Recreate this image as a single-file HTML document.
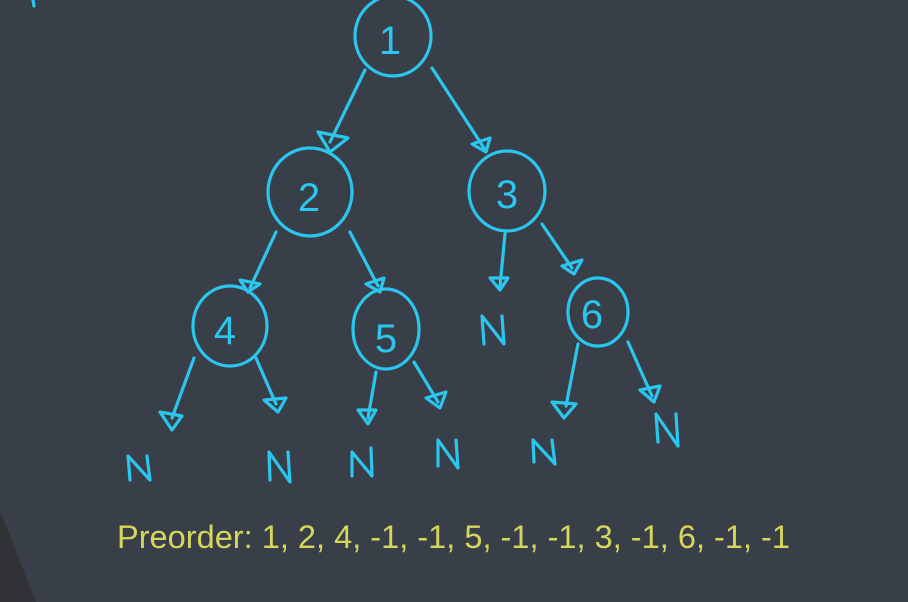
<!DOCTYPE html>
<html><head><style>
html,body{margin:0;padding:0;background:#393f48;}
svg{display:block}
</style></head><body>
<svg width="908" height="602" viewBox="0 0 908 602" xmlns="http://www.w3.org/2000/svg">
<rect width="908" height="602" fill="#393f48"/>
<path d="M0 510 L36 602 L0 602 Z" fill="#303236"/>
<g fill="none" stroke="#2bc6ee" stroke-width="3.2" stroke-linecap="round" stroke-linejoin="round">
<path d="M33 0 L34 6"/>
<ellipse cx="393" cy="36" rx="38" ry="40"/>
<ellipse cx="310" cy="192" rx="42" ry="44"/>
<ellipse cx="507" cy="191" rx="38" ry="40"/>
<ellipse cx="230" cy="326" rx="37" ry="40"/>
<ellipse cx="386" cy="329" rx="33" ry="40"/>
<ellipse cx="598" cy="312" rx="30" ry="34"/>
<path d="M365 70 L330 142"/><path d="M318 132 L330 152 L348 138 Z"/>
<path d="M432 68 L484 148"/><path d="M472 144 L486 152 L490 138 Z"/>
<path d="M276 232 L250 288"/><path d="M240 280 L248 292 L260 284 Z"/>
<path d="M350 232 L378 286"/><path d="M366 284 L380 292 L384 278 Z"/>
<path d="M505 234 L500 286"/><path d="M490 278 L500 290 L508 278 Z"/>
<path d="M542 224 L572 268"/><path d="M562 266 L574 274 L582 260 Z"/>
<path d="M194 358 L172 418"/><path d="M160 412 L172 430 L182 416 Z"/>
<path d="M256 358 L276 404"/><path d="M264 400 L278 412 L286 398 Z"/>
<path d="M376 372 L368 418"/><path d="M358 410 L368 424 L376 410 Z"/>
<path d="M414 362 L438 402"/><path d="M426 398 L440 408 L446 392 Z"/>
<path d="M578 344 L566 406"/><path d="M552 402 L564 418 L576 404 Z"/>
<path d="M628 342 L652 396"/><path d="M640 390 L654 402 L660 386 Z"/>
<path d="M130 480 L128 456 L150 480 L147 456"/>
<path d="M270 480 L269 452 L290 482 L288 452"/>
<path d="M352 476 L352 452 L372 476 L371 448"/>
<path d="M438 466 L438 440 L458 468 L456 440"/>
<path d="M534 462 L533 440 L555 464 L552 440"/>
<path d="M484 344 L482 316 L504 344 L502 316"/>
<path d="M658 442 L656 414 L678 446 L676 414"/>
</g>
<g fill="#2bc6ee" font-family="Liberation Sans, sans-serif" font-size="40" text-anchor="middle">
<text x="390" y="54">1</text>
<text x="309" y="211">2</text>
<text x="507" y="208">3</text>
<text x="225" y="344">4</text>
<text x="386" y="352">5</text>
<text x="592" y="328">6</text>
</g>
<text x="117" y="548" fill="#d6d65c" font-family="Liberation Sans, sans-serif" font-size="32" textLength="673" lengthAdjust="spacingAndGlyphs">Preorder: 1, 2, 4, -1, -1, 5, -1, -1, 3, -1, 6, -1, -1</text>
</svg>
</body></html>
